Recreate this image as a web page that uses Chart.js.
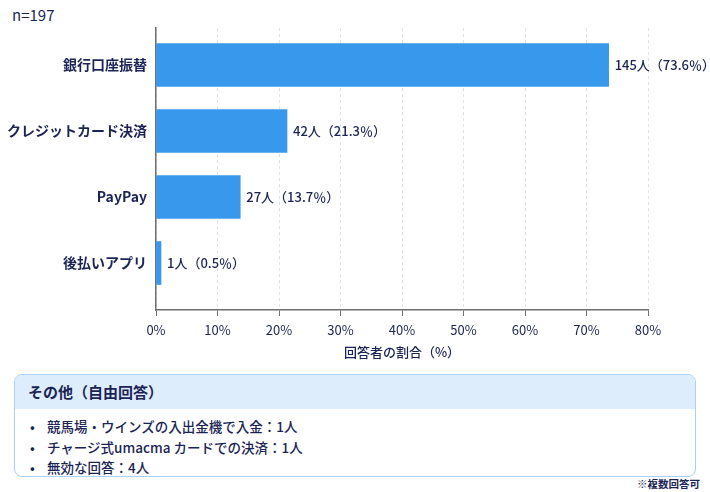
<!DOCTYPE html>
<html lang="ja">
<head>
<meta charset="utf-8">
<title>支払い方法</title>
<script src="https://cdn.jsdelivr.net/npm/chart.js@4.4.1/dist/chart.umd.min.js"></script>
<style>
  html, body { margin: 0; padding: 0; background: #fff; }
  body { width: 710px; height: 492px; position: relative; overflow: hidden;
         font-family: "Noto Sans CJK JP", "Noto Sans", sans-serif; color: #1b2455; }
  #n { position: absolute; left: 12px; top: 4px; font-size: 15px; }
  #wrap { position: absolute; left: 0; top: 0; width: 710px; height: 365px; }
  .box { position: absolute; left: 14px; top: 374px; width: 680px; height: 101px;
         border: 1px solid #a9d1f6; border-radius: 8px; overflow: hidden; }
  .box h3 { margin: 0; height: 34px; line-height: 34px; padding-left: 13px;
            background: #deedfb; font-size: 15px; font-weight: 700; }
  .box ul { margin: 0; padding: 7px 0 0 32px; list-style: none; }
  .box li { position: relative; font-size: 13.5px; font-weight: 500; line-height: 20.5px; }
  .box li::before { content: "•"; position: absolute; left: -17px; }
  .note { position: absolute; right: 10px; top: 476px; font-size: 10.5px; font-weight: 700; }
</style>
</head>
<body>
<div id="n">n=197</div>
<div id="wrap"><canvas id="payChart"></canvas></div>
<div class="box">
  <h3>その他（自由回答）</h3>
  <ul id="others"></ul>
</div>
<div class="note">※複数回答可</div>
<script>
// Data
const categories = ['銀行口座振替', 'クレジットカード決済', 'PayPay', '後払いアプリ'];
const counts = [145, 42, 27, 1];
const percents = [73.6, 21.3, 13.7, 0.5];
const xTickValues = [0, 10, 20, 30, 40, 50, 60, 70, 80];
const otherAnswers = [
    '競馬場・ウインズの入出金機で入金：1人',
    'チャージ式umacma カードでの決済：1人',
    '無効な回答：4人'
];

const navy = '#1b2455';
const fontFamily = '"Noto Sans CJK JP", "Noto Sans", sans-serif';

// Free-answer list
const list = document.getElementById('others');
otherAnswers.forEach(t => {
    const li = document.createElement('li');
    li.textContent = t;
    list.appendChild(li);
});

// Labels to the right of each bar: "145人（73.6％）"
const barLabels = {
    id: 'barLabels',
    afterDatasetsDraw(chart) {
        const ctx = chart.ctx;
        const meta = chart.getDatasetMeta(0);
        ctx.save();
        ctx.font = '500 13px ' + fontFamily;
        ctx.fillStyle = navy;
        ctx.textBaseline = 'middle';
        ctx.textAlign = 'left';
        meta.data.forEach((bar, i) => {
            ctx.fillText(`${counts[i]}人（${percents[i]}％）`, bar.x + 6, bar.y);
        });
        ctx.restore();
    }
};

const ctx = document.getElementById('payChart').getContext('2d');
const payChart = new Chart(ctx, {
    type: 'bar',
    data: {
        datasets: [{
            data: percents.map((v, i) => ({ x: v, y: i })),
            backgroundColor: '#3898ec',
            barThickness: 43,
            minBarLength: 5
        }]
    },
    options: {
        indexAxis: 'y',
        responsive: true,
        maintainAspectRatio: false,
        animation: false,
        layout: { padding: { top: 28, right: 62, left: 0, bottom: 0 } },
        plugins: {
            legend: { display: false },
            tooltip: { enabled: false }
        },
        scales: {
            x: {
                type: 'linear',
                min: 0,
                max: 80,
                afterBuildTicks: scale => { scale.ticks = xTickValues.map(v => ({ value: v })); },
                afterFit: scale => { scale.height = 55; },
                grid: { color: '#dde1ea', tickColor: '#6f6f6f', tickLength: 6 },
                border: { color: '#6f6f6f', width: 1.5, dash: [3, 3] },
                ticks: {
                    padding: 6,
                    color: navy,
                    font: { family: fontFamily, size: 13 },
                    callback: v => v + '%'
                },
                title: {
                    display: true,
                    text: '回答者の割合（%）',
                    color: navy,
                    padding: { top: 0, bottom: 5 },
                    font: { family: fontFamily, size: 13, weight: '500' }
                }
            },
            y: {
                type: 'linear',
                reverse: true,
                offset: false,
                bounds: 'data',
                min: -0.5 - 4 / 66,
                max: 3.5 + 14 / 66,
                afterBuildTicks: scale => { scale.ticks = categories.map((c, i) => ({ value: i })); },
                afterFit: scale => { scale.width = 156; },
                grid: { color: 'transparent', drawTicks: false, offset: false },
                border: { color: '#6f6f6f', width: 1.5 },
                ticks: {
                    padding: 9,
                    color: navy,
                    autoSkip: false,
                    font: { family: fontFamily, size: 14, weight: 'bold' },
                    callback: v => categories[v] ?? ''
                }
            }
        }
    },
    plugins: [barLabels]
});
</script>
</body>
</html>
